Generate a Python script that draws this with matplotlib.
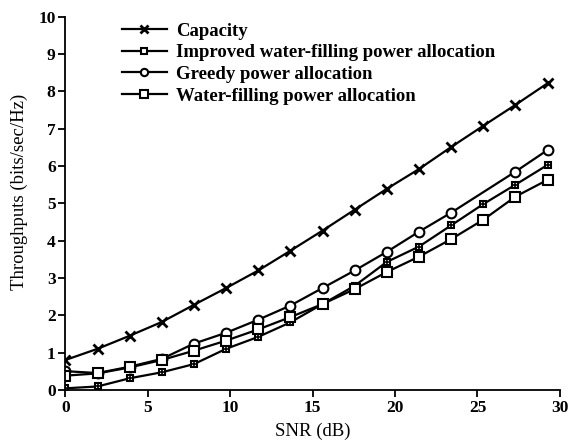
#!/usr/bin/env python3
# -*- coding: utf-8 -*-
import matplotlib
matplotlib.use('Agg')
import matplotlib.pyplot as plt
from matplotlib import ticker

#==============================================================================#
# data
snr = [0, 1.95, 3.9, 5.85, 7.8, 9.75, 11.7, 13.65, 15.6, 17.55, 19.5,
       21.45, 23.4, 25.35, 27.3, 29.25]
capacity = [0.8, 1.1, 1.45, 1.82, 2.28, 2.73, 3.2, 3.73, 4.27, 4.83, 5.39,
            5.92, 6.51, 7.08, 7.64, 8.22]
improved = [0.04, 0.09, 0.31, 0.47, 0.69, 1.1, 1.42, 1.81, 2.3, 2.79, 3.43,
            3.84, 4.41, 4.98, 5.5, 6.03]
greedy = [0.5, 0.45, 0.62, 0.83, 1.24, 1.53, 1.88, 2.26, 2.73, 3.2, 3.7,
          4.24, 4.75, 5.3, 5.85, 6.43]
waterfill = [0.38, 0.44, 0.6, 0.8, 1.05, 1.32, 1.62, 1.95, 2.3, 2.7, 3.16,
             3.57, 4.04, 4.56, 5.18, 5.63]
labels = ['Capacity', 'Improved water-filling power allocation',
          'Greedy power allocation', 'Water-filling power allocation']
#==============================================================================#

plt.rcParams['font.family'] = 'Liberation Serif'
plt.rcParams['font.weight'] = 'bold'
plt.rcParams['mathtext.fontset'] = 'stix'

fig = plt.figure(figsize=(5.69, 4.45), dpi=100)
ax = fig.add_axes([0.115, 0.124, 0.869, 0.838])

ax.spines['top'].set_visible(False)
ax.spines['right'].set_visible(False)
ax.spines['left'].set_linewidth(1.3)
ax.spines['bottom'].set_linewidth(1.3)

ax.plot(snr, capacity, c='k', lw=1.6, marker='x', ms=7, mew=2,
        label=labels[0])
ax.plot(snr, improved, c='k', lw=1.6, marker='s', ms=5, mew=1.5,
        mfc='white', label=labels[1])
ax.plot(snr, improved, c='k', lw=0, marker='+', ms=5, mew=1.2)
ax.plot(snr, greedy, c='k', lw=1.6, marker='o', ms=7, mew=1.5,
        mfc='white', markevery=[i for i in range(len(snr)) if i != 13],
        label=labels[2])
ax.plot(snr, waterfill, c='k', lw=1.6, marker='s', ms=7, mew=1.5,
        mfc='white', label=labels[3])

ax.set_xlim(0, 30)
ax.set_ylim(0, 10)
ax.xaxis.set_major_locator(ticker.MultipleLocator(5))
ax.yaxis.set_major_locator(ticker.MultipleLocator(1))
ax.tick_params(axis='both', direction='out', length=5, width=1.3,
               labelsize=12.5, pad=2)
ax.set_xlabel('SNR (dB)', fontsize=13.5, labelpad=5)
ax.set_ylabel('Throughputs (bits/sec/Hz)', fontsize=13.5, labelpad=0)
ax.yaxis.set_label_coords(-0.075, 0.53)

h, l = ax.get_legend_handles_labels()
leg = ax.legend(h, l, loc='upper left', bbox_to_anchor=(0.08, 1.03),
                frameon=False, fontsize=13.5, handlelength=2.4,
                handletextpad=0.5, labelspacing=0.24, markerscale=0.75)

fig.savefig('out.png', dpi=100)
